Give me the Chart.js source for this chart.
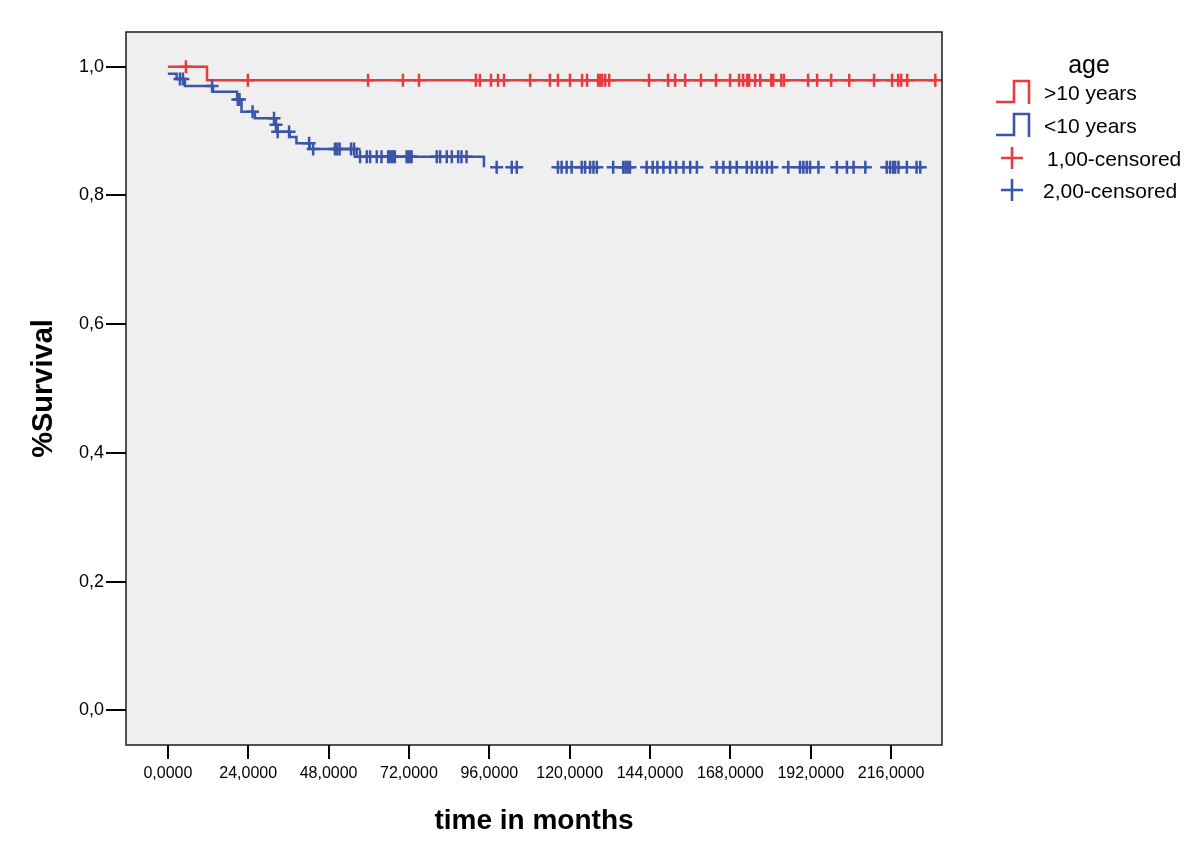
<!DOCTYPE html>
<html>
<head>
<meta charset="utf-8">
<title>Survival by age</title>
<script src="https://cdn.jsdelivr.net/npm/chart.js@4.4.1/dist/chart.umd.min.js"></script>
<style>
  html, body { margin: 0; padding: 0; background: #fff; }
  #wrap { position: relative; width: 1200px; height: 852px; font-family: "Liberation Sans", Arial, sans-serif; }
  #km { position: absolute; left: 0; top: 0; }
  .lg { position: absolute; color: #000; font-size: 21px; line-height: 1; white-space: nowrap; transform: translateY(-50%); }
  .lg-title { font-size: 25px; transform: translate(-50%, -50%); }
  .lg-icon { position: absolute; }
</style>
</head>
<body>
<div id="wrap">
  <canvas id="km" width="1200" height="852"></canvas>

  <!-- legend -->
  <div class="lg lg-title" style="left:1089px; top:64px;">age</div>
  <svg class="lg-icon" style="left:995px; top:79px;" width="38" height="26">
    <path d="M1 23 H19 V2 H34 V25" fill="none" stroke="#e83a3f" stroke-width="2.6"/>
  </svg>
  <div class="lg" style="left:1044px; top:92px;">&gt;10 years</div>
  <svg class="lg-icon" style="left:995px; top:112px;" width="38" height="26">
    <path d="M1 23 H19 V2 H34 V25" fill="none" stroke="#3b55a8" stroke-width="2.6"/>
  </svg>
  <div class="lg" style="left:1044px; top:125px;">&lt;10 years</div>
  <svg class="lg-icon" style="left:1001px; top:147px;" width="22" height="22">
    <path d="M11 0 V22 M0 11 H22" fill="none" stroke="#e83a3f" stroke-width="2.6"/>
  </svg>
  <div class="lg" style="left:1047px; top:158px;">1,00-censored</div>
  <svg class="lg-icon" style="left:1001px; top:179px;" width="22" height="22">
    <path d="M11 0 V22 M0 11 H22" fill="none" stroke="#3b55a8" stroke-width="2.6"/>
  </svg>
  <div class="lg" style="left:1043px; top:190px;">2,00-censored</div>
</div>

<script>
// ------------------------------------------------------------
// Data
// ------------------------------------------------------------

const xTickValues = [0, 24, 48, 72, 96, 120, 144, 168, 192, 216];
const xTickLabels = ["0,0000", "24,0000", "48,0000", "72,0000", "96,0000",
                     "120,0000", "144,0000", "168,0000", "192,0000", "216,0000"];
const yTickValues = [0, 0.2, 0.4, 0.6, 0.8, 1.0];
const yTickLabels = ["0,0", "0,2", "0,4", "0,6", "0,8", "1,0"];

// >10 years
const olderEventTimes = [0, 11.7];
const olderSurvival   = [1.0, 0.979];
const olderCensorTimes = [
  5.4, 23.9, 59.8, 70.2, 75.0, 92.0, 93.2, 96.5, 98.6, 100.4,
  108.2, 114.1, 116.5, 120.1, 123.7, 125.2, 128.5, 129.1, 129.7, 130.6,
  131.8, 143.7, 149.4, 151.5, 154.5, 159.2, 163.7, 167.9, 170.6, 171.8,
  173.0, 173.6, 175.4, 176.9, 180.2, 180.8, 183.2, 184.0, 191.2, 193.9,
  198.1, 203.5, 210.9, 216.3, 218.1, 219.0, 220.8, 229.2
];

// <10 years
const youngerEventTimes = [0, 2.6, 5.1, 13.5, 20.7, 22.0, 26.0, 32.0, 32.6, 36.4, 38.4, 42.4, 56.4, 94.4];
const youngerSurvival   = [0.989, 0.981, 0.970, 0.961, 0.949, 0.930, 0.920, 0.910, 0.899, 0.891, 0.881, 0.872, 0.860, 0.844];
const youngerCensorTimes = [
  3.6, 4.5, 13.2, 20.9, 21.4, 25.3, 31.7, 32.3, 32.8, 36.2, 42.2, 43.4,
  49.9, 50.6, 51.3, 54.7, 55.6,
  57.4, 59.4, 60.4, 62.4, 63.8, 65.8, 66.3, 66.8, 67.3, 67.8, 71.3, 71.8, 72.3, 72.8,
  80.3, 81.3, 83.3, 84.8, 86.7, 87.7, 89.2,
  98.2, 102.7, 104.2,
  116.5, 117.6, 119.1, 120.6, 123.6, 124.6, 126.1, 127.1, 128.1,
  133.0, 136.0, 136.7, 137.3, 138.0,
  143.0, 144.8, 146.2, 148.0, 150.0, 151.8, 154.0, 156.0, 158.0,
  163.9, 165.9, 167.9, 169.9, 172.9, 174.4, 175.9, 177.4, 178.9, 180.4,
  185.3, 188.8, 189.8, 190.8, 191.8, 194.3,
  199.8, 202.8, 204.8, 208.3,
  214.7, 215.7, 216.6, 217.2, 218.2, 220.7, 223.6, 224.7
];

const RED  = "#e83a3f";
const BLUE = "#3b55a8";
const FONT = "'Liberation Sans', Arial, sans-serif";

// ------------------------------------------------------------
// Helpers
// ------------------------------------------------------------

// survival level of a step curve at time t
function survivalAt(times, surv, t) {
  let s = surv[0];
  for (let i = 0; i < times.length; i++) {
    if (times[i] <= t) s = surv[i];
  }
  return s;
}

function curvePoints(times, surv, endTime) {
  const pts = times.map((t, i) => ({ x: t, y: surv[i] }));
  if (endTime !== undefined) pts.push({ x: endTime, y: surv[surv.length - 1] });
  return pts;
}

function censorPoints(censorTimes, times, surv) {
  return censorTimes.map(t => ({ x: t, y: survivalAt(times, surv, t) }));
}

// grey plot area + black frame
const plotFrame = {
  id: "plotFrame",
  beforeDraw(chart) {
    const { ctx, chartArea: a } = chart;
    ctx.save();
    ctx.fillStyle = "#fff";
    ctx.fillRect(0, 0, chart.width, chart.height);
    ctx.fillStyle = "#efefef";
    ctx.fillRect(a.left, a.top, a.right - a.left, a.bottom - a.top);
    ctx.restore();
  },
  afterDraw(chart) {
    const { ctx, chartArea: a } = chart;
    ctx.save();
    ctx.strokeStyle = "#1a1a1a";
    ctx.lineWidth = 1.5;
    ctx.strokeRect(a.left, a.top, a.right - a.left, a.bottom - a.top);
    ctx.restore();
  }
};

// ------------------------------------------------------------
// Chart
// ------------------------------------------------------------

new Chart(document.getElementById("km"), {
  type: "scatter",
  data: {
    datasets: [
      {
        label: "<10 years",
        data: curvePoints(youngerEventTimes, youngerSurvival),
        showLine: true,
        stepped: "before",
        borderColor: BLUE,
        borderWidth: 2.5,
        pointRadius: 0,
        fill: false,
      },
      {
        label: "2,00-censored",
        data: censorPoints(youngerCensorTimes, youngerEventTimes, youngerSurvival),
        showLine: false,
        pointStyle: "cross",
        pointRadius: 6.5,
        borderColor: BLUE,
        borderWidth: 2.5,
      },
      {
        label: ">10 years",
        data: curvePoints(olderEventTimes, olderSurvival, olderCensorTimes[olderCensorTimes.length - 1]),
        showLine: true,
        stepped: "before",
        borderColor: RED,
        borderWidth: 2.5,
        pointRadius: 0,
        fill: false,
      },
      {
        label: "1,00-censored",
        data: censorPoints(olderCensorTimes, olderEventTimes, olderSurvival),
        showLine: false,
        pointStyle: "cross",
        pointRadius: 6.5,
        borderColor: RED,
        borderWidth: 2.5,
      },
    ],
  },
  options: {
    responsive: false,
    animation: false,
    devicePixelRatio: 1,
    layout: { padding: { left: 0, top: 32, right: 258, bottom: 0 } },
    plugins: {
      legend: { display: false },
      tooltip: { enabled: false },
    },
    scales: {
      x: {
        type: "linear",
        min: -12.5,
        max: 231.2,
        afterBuildTicks: s => { s.ticks = xTickValues.map(v => ({ value: v })); },
        afterFit: s => { s.height = 107; },
        border: { display: false },
        grid: { drawOnChartArea: false, tickLength: 14, color: "#000", lineWidth: 2 },
        ticks: {
          callback: v => xTickLabels[xTickValues.indexOf(v)],
          font: { family: FONT, size: 16 },
          color: "#000",
          padding: 5,
          maxRotation: 0,
          autoSkip: false,
        },
        title: {
          display: true,
          text: "time in months",
          font: { family: FONT, size: 28, weight: "bold" },
          color: "#000",
          padding: { top: 0, bottom: 14 },
        },
      },
      y: {
        type: "linear",
        min: -0.054,
        max: 1.054,
        afterBuildTicks: s => { s.ticks = yTickValues.map(v => ({ value: v })); },
        afterFit: s => { s.width = 126; },
        border: { display: false },
        grid: { drawOnChartArea: false, tickLength: 20, color: "#000", lineWidth: 2 },
        ticks: {
          callback: v => yTickLabels[yTickValues.indexOf(v)],
          font: { family: FONT, size: 18 },
          color: "#000",
          padding: 2,
        },
        title: {
          display: true,
          text: "%Survival",
          font: { family: FONT, size: 29, weight: "bold" },
          color: "#000",
          padding: { top: 27, bottom: 0 },
        },
      },
    },
  },
  plugins: [plotFrame],
});
</script>
</body>
</html>
